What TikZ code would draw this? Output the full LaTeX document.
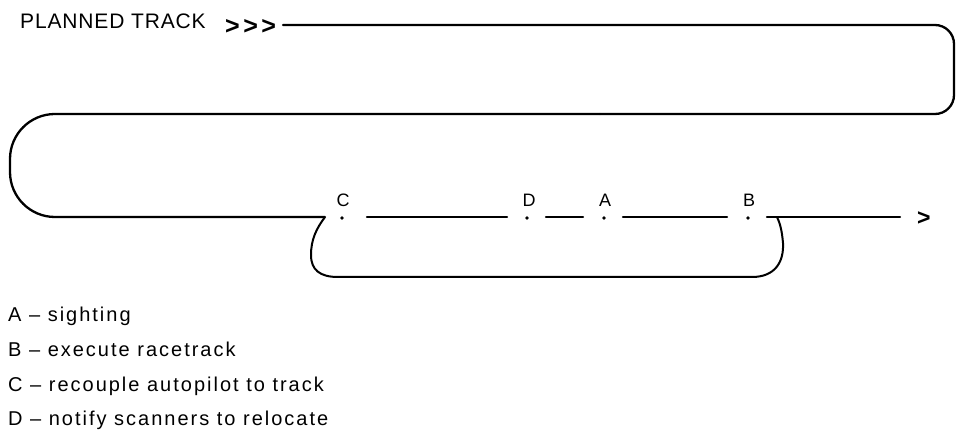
\documentclass[tikz,border=0pt]{standalone}
\usepackage{fontspec}
\setmainfont{Liberation Sans}
\begin{document}
\begin{tikzpicture}[x=1pt,y=-1pt,
  track/.style={line width=2.3pt,line cap=round,line join=round},
  loopline/.style={line width=2pt,line join=round},
  lbl/.style={font=\fontsize{18}{20}\selectfont,anchor=base,inner sep=0pt},
  legend/.style={font=\fontsize{20}{22}\selectfont\addfontfeature{LetterSpace=10},anchor=base west,inner sep=0pt},
  dotpt/.style={circle,fill,inner sep=0pt,minimum size=3.8pt}]
\useasboundingbox (0,0) rectangle (956,435);

% title and chevrons
\node[anchor=base west,inner sep=0pt,font=\fontsize{21}{24}\selectfont\addfontfeature{LetterSpace=4}] (title) at (20,29) {PLANNED TRACK};
\node[anchor=base west,inner sep=0pt,font=\bfseries\fontsize{25}{28}\selectfont] (chev) at (225,35) {>\hspace{3.5pt}>\hspace{3.5pt}>};

% track coordinates
\coordinate (t0) at (283,25);
\coordinate (tr1) at (954,25);
\coordinate (tr2) at (954,114);
\coordinate (mid) at (600,114);
\coordinate (l1) at (10,114);
\coordinate (l2) at (10,217);
\coordinate (g0) at (325,217);

\draw[track,rounded corners=19] (t0) -- (tr1) -- (tr2) -- (mid);
\draw[track,rounded corners=45] (mid) -- (l1) -- (l2) -- (g0);

% event points
\node[dotpt] (C) at (342,218) {};
\node[dotpt] (D) at (527,218) {};
\node[dotpt] (A) at (604,218) {};
\node[dotpt] (B) at (748,218) {};
\node[lbl] (Cl) at (343,207) {C};
\node[lbl] (Dl) at (529,207) {D};
\node[lbl] (Al) at (605,207) {A};
\node[lbl] (Bl) at (749,207) {B};

% segments of the straight track
\coordinate (s1a) at (367,217); \coordinate (s1b) at (507,217);
\coordinate (s2a) at (546,217); \coordinate (s2b) at (583,217);
\coordinate (s3a) at (623,217); \coordinate (s3b) at (727,217);
\coordinate (s4a) at (767,217); \coordinate (s4b) at (900,217);
\draw[track] (s1a) -- (s1b);
\draw[track] (s2a) -- (s2b);
\draw[track] (s3a) -- (s3b);
\draw[track] (s4a) -- (s4b);
\node[anchor=base west,inner sep=0pt,font=\bfseries\fontsize{23}{26}\selectfont] (endarrow) at (917,226) {>};

% racetrack loop
\coordinate (r0) at (777,217);
\draw[loopline] (g0) .. controls (316,229) and (311,240) .. (311,255)
  .. controls (311,270) and (320,277) .. (338,277) -- (752,277)
  .. controls (775,277) and (784,262) .. (783,243)
  .. controls (782,231) and (780,223) .. (r0);

% legend
\node[legend] (la) at (8,322) {A – sighting};
\node[legend] (lb) at (8,357) {B – execute racetrack};
\node[legend] (lc) at (8,392) {C – recouple autopilot to track};
\node[legend] (ld) at (8,426) {D – notify scanners to relocate};
\end{tikzpicture}
\end{document}
